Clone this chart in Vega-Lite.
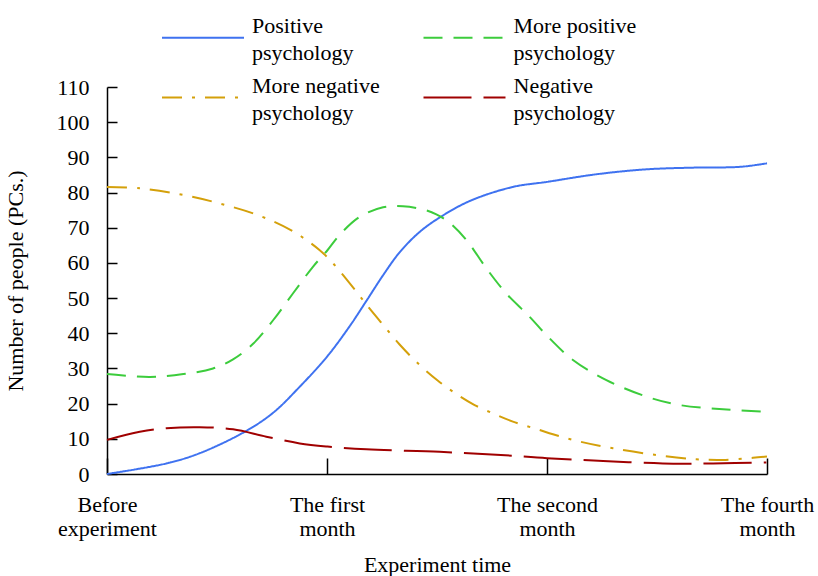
{
  "$schema": "https://vega.github.io/schema/vega-lite/v6.json",
  "width": 660,
  "height": 387,
  "autosize": {"type": "none"},
  "padding": {"left": 107, "top": 87, "right": 51, "bottom": 102},
  "background": "white",
  "config": {
    "view": {"stroke": null},
    "font": "Liberation Serif",
    "style": {"guide-label": {"lineHeight": 27}},
    "legend": {
      "title": null,
      "orient": "none",
      "legendX": 74.5,
      "legendY": -71,
      "columns": 2,
      "padding": 0,
      "symbolType": "M-2,0H2",
      "symbolSize": 1681,
      "symbolStrokeWidth": 2,
      "labelOffset": 27.5,
      "columnPadding": 38.5,
      "rowPadding": 10,
      "labelFontSize": 22,
      "labelColor": "black",
      "labelLimit": 300,
      "labelBaseline": "bottom"
    }
  },
  "data": {
    "values": [
      {"series": "Positive psychology", "t": 0, "v": 0},
      {"series": "Positive psychology", "t": 0.27, "v": 3.0},
      {"series": "Positive psychology", "t": 0.421, "v": 5.9},
      {"series": "Positive psychology", "t": 0.626, "v": 12.0},
      {"series": "Positive psychology", "t": 0.755, "v": 17.4},
      {"series": "Positive psychology", "t": 0.876, "v": 24.8},
      {"series": "Positive psychology", "t": 1.002, "v": 33.5},
      {"series": "Positive psychology", "t": 1.103, "v": 42},
      {"series": "Positive psychology", "t": 1.179, "v": 49.2},
      {"series": "Positive psychology", "t": 1.255, "v": 56.5},
      {"series": "Positive psychology", "t": 1.33, "v": 63.0},
      {"series": "Positive psychology", "t": 1.421, "v": 68.8},
      {"series": "Positive psychology", "t": 1.512, "v": 72.9},
      {"series": "Positive psychology", "t": 1.649, "v": 77.6},
      {"series": "Positive psychology", "t": 1.845, "v": 81.6},
      {"series": "Positive psychology", "t": 1.997, "v": 83},
      {"series": "Positive psychology", "t": 2.225, "v": 85.2},
      {"series": "Positive psychology", "t": 2.452, "v": 86.6},
      {"series": "Positive psychology", "t": 2.679, "v": 87.1},
      {"series": "Positive psychology", "t": 2.876, "v": 87.3},
      {"series": "Positive psychology", "t": 3, "v": 88.3},

      {"series": "More positive psychology", "t": 0, "v": 28.4},
      {"series": "More positive psychology", "t": 0.195, "v": 27.6},
      {"series": "More positive psychology", "t": 0.347, "v": 28.4},
      {"series": "More positive psychology", "t": 0.482, "v": 30},
      {"series": "More positive psychology", "t": 0.573, "v": 32.6},
      {"series": "More positive psychology", "t": 0.664, "v": 37.0},
      {"series": "More positive psychology", "t": 0.755, "v": 43.7},
      {"series": "More positive psychology", "t": 0.845, "v": 51.3},
      {"series": "More positive psychology", "t": 0.936, "v": 58.9},
      {"series": "More positive psychology", "t": 1.002, "v": 63.6},
      {"series": "More positive psychology", "t": 1.058, "v": 68.0},
      {"series": "More positive psychology", "t": 1.149, "v": 73.1},
      {"series": "More positive psychology", "t": 1.255, "v": 75.8},
      {"series": "More positive psychology", "t": 1.345, "v": 76.1},
      {"series": "More positive psychology", "t": 1.436, "v": 75.2},
      {"series": "More positive psychology", "t": 1.497, "v": 73.8},
      {"series": "More positive psychology", "t": 1.558, "v": 71.4},
      {"series": "More positive psychology", "t": 1.634, "v": 66.5},
      {"series": "More positive psychology", "t": 1.725, "v": 58.4},
      {"series": "More positive psychology", "t": 1.815, "v": 51.3},
      {"series": "More positive psychology", "t": 1.921, "v": 44.7},
      {"series": "More positive psychology", "t": 1.997, "v": 39.5},
      {"series": "More positive psychology", "t": 2.118, "v": 32.4},
      {"series": "More positive psychology", "t": 2.27, "v": 26.7},
      {"series": "More positive psychology", "t": 2.452, "v": 22},
      {"series": "More positive psychology", "t": 2.603, "v": 19.6},
      {"series": "More positive psychology", "t": 2.8, "v": 18.4},
      {"series": "More positive psychology", "t": 2.982, "v": 17.7},

      {"series": "More negative psychology", "t": 0, "v": 81.6},
      {"series": "More negative psychology", "t": 0.149, "v": 81.2},
      {"series": "More negative psychology", "t": 0.33, "v": 79.5},
      {"series": "More negative psychology", "t": 0.512, "v": 76.9},
      {"series": "More negative psychology", "t": 0.694, "v": 73.4},
      {"series": "More negative psychology", "t": 0.845, "v": 69.0},
      {"series": "More negative psychology", "t": 0.967, "v": 63.6},
      {"series": "More negative psychology", "t": 1.027, "v": 59.9},
      {"series": "More negative psychology", "t": 1.134, "v": 51.8},
      {"series": "More negative psychology", "t": 1.194, "v": 47.0},
      {"series": "More negative psychology", "t": 1.255, "v": 42.4},
      {"series": "More negative psychology", "t": 1.33, "v": 36.8},
      {"series": "More negative psychology", "t": 1.421, "v": 31.0},
      {"series": "More negative psychology", "t": 1.503, "v": 26.6},
      {"series": "More negative psychology", "t": 1.589, "v": 22.7},
      {"series": "More negative psychology", "t": 1.671, "v": 19.6},
      {"series": "More negative psychology", "t": 1.77, "v": 16.8},
      {"series": "More negative psychology", "t": 1.845, "v": 14.9},
      {"series": "More negative psychology", "t": 1.967, "v": 12.5},
      {"series": "More negative psychology", "t": 2.027, "v": 11.3},
      {"series": "More negative psychology", "t": 2.15, "v": 9.2},
      {"series": "More negative psychology", "t": 2.3, "v": 7.3},
      {"series": "More negative psychology", "t": 2.497, "v": 5.4},
      {"series": "More negative psychology", "t": 2.679, "v": 4.2},
      {"series": "More negative psychology", "t": 2.8, "v": 4.0},
      {"series": "More negative psychology", "t": 2.936, "v": 4.6},
      {"series": "More negative psychology", "t": 3, "v": 5.0},

      {"series": "Negative psychology", "t": 0, "v": 9.7},
      {"series": "Negative psychology", "t": 0.149, "v": 12},
      {"series": "Negative psychology", "t": 0.27, "v": 13},
      {"series": "Negative psychology", "t": 0.421, "v": 13.3},
      {"series": "Negative psychology", "t": 0.573, "v": 12.7},
      {"series": "Negative psychology", "t": 0.724, "v": 10.6},
      {"series": "Negative psychology", "t": 0.876, "v": 8.7},
      {"series": "Negative psychology", "t": 1.002, "v": 7.8},
      {"series": "Negative psychology", "t": 1.179, "v": 7},
      {"series": "Negative psychology", "t": 1.512, "v": 6.3},
      {"series": "Negative psychology", "t": 1.79, "v": 5.4},
      {"series": "Negative psychology", "t": 2.0, "v": 4.5},
      {"series": "Negative psychology", "t": 2.255, "v": 3.7},
      {"series": "Negative psychology", "t": 2.527, "v": 3.0},
      {"series": "Negative psychology", "t": 2.755, "v": 3.0},
      {"series": "Negative psychology", "t": 2.997, "v": 3.3}
    ]
  },
  "mark": {"type": "line", "interpolate": "catmull-rom", "strokeWidth": 2},
  "encoding": {
    "x": {
      "field": "t",
      "type": "quantitative",
      "scale": {"domain": [0, 3], "nice": false, "zero": false},
      "axis": {
        "values": [0, 1, 2, 3],
        "labelExpr": "datum.value == 0 ? ['Before', 'experiment'] : datum.value == 1 ? ['The first', 'month'] : datum.value == 2 ? ['The second', 'month'] : ['The fourth', 'month']",
        "grid": false,
        "tickSize": -16,
        "tickColor": "black",
        "tickWidth": 1.5,
        "domainColor": "black",
        "domainWidth": 1.5,
        "labelFontSize": 22,
        "labelColor": "black",
        "labelBaseline": "top",
        "labelAlign": "center",
        "labelPadding": 36,
        "labelLineHeight": 24,
        "labelFlush": false,
        "labelOverlap": false,
        "title": "Experiment time",
        "titleFontSize": 22,
        "titleFontWeight": "normal",
        "titleColor": "black",
        "titlePadding": 15
      }
    },
    "y": {
      "field": "v",
      "type": "quantitative",
      "scale": {"domain": [0, 110], "nice": false},
      "axis": {
        "values": [0, 10, 20, 30, 40, 50, 60, 70, 80, 90, 100, 110],
        "grid": false,
        "tickSize": -10,
        "tickColor": "black",
        "tickWidth": 1.5,
        "domainColor": "black",
        "domainWidth": 1.5,
        "labelFontSize": 22,
        "labelColor": "black",
        "labelPadding": 28,
        "labelOverlap": false,
        "title": "Number of people (PCs.)",
        "titleFontSize": 22,
        "titleFontWeight": "normal",
        "titleColor": "black",
        "titlePadding": 29
      }
    },
    "color": {
      "field": "series",
      "type": "nominal",
      "scale": {
        "domain": ["Positive psychology", "More negative psychology", "More positive psychology", "Negative psychology"],
        "range": ["#3f72f0", "#d4a00a", "#3ccc3c", "#a00000"]
      },
      "legend": {
        "labelExpr": "split(replace(datum.label, ' psychology', '|psychology'), '|')"
      }
    },
    "strokeDash": {
      "field": "series",
      "type": "nominal",
      "scale": {
        "domain": ["Positive psychology", "More negative psychology", "More positive psychology", "Negative psychology"],
        "range": [[1, 0], [20, 10, 3, 10], [19, 11], [48, 12]]
      },
      "legend": {
        "labelExpr": "split(replace(datum.label, ' psychology', '|psychology'), '|')"
      }
    }
  }
}
